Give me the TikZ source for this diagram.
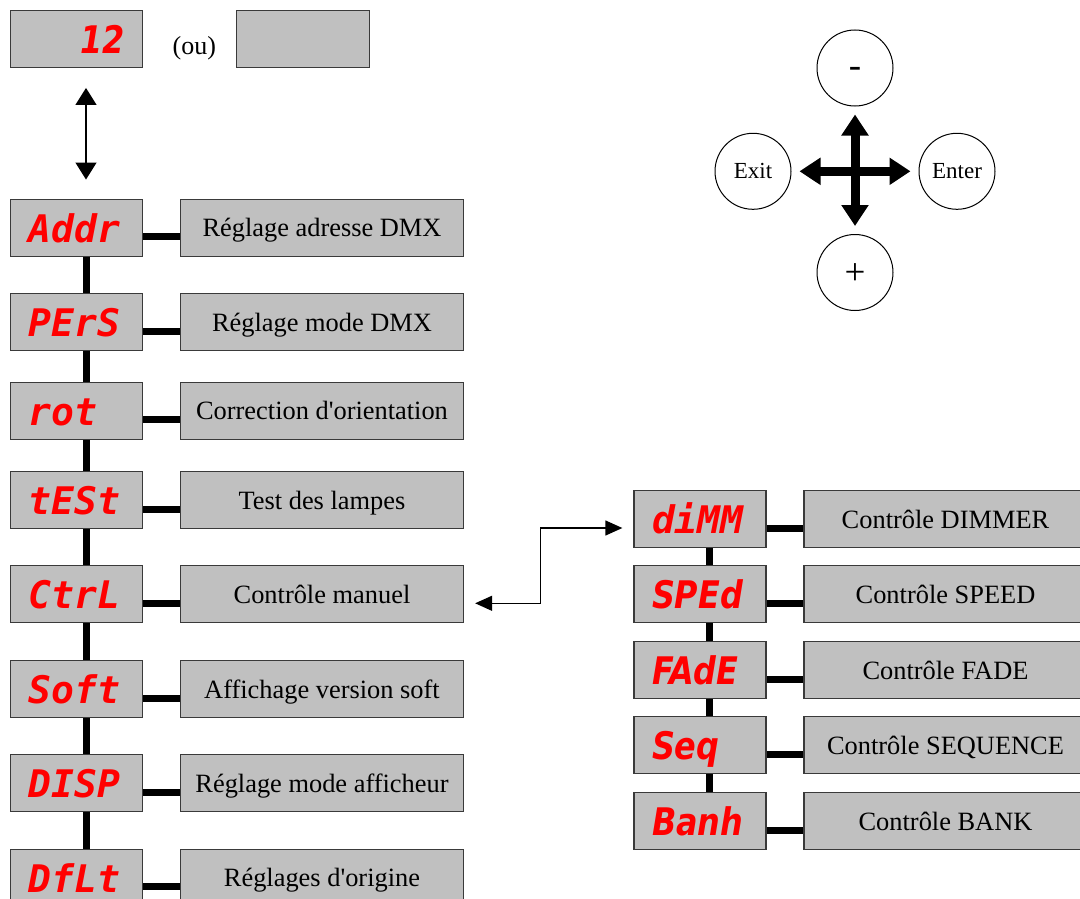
\documentclass[tikz,border=0pt]{standalone}
\usepackage{fontspec}
\setmainfont{Liberation Serif}
\newfontfamily\segmono{DejaVu Sans Mono Bold Oblique}
\newfontfamily\segsans{DejaVu Sans Bold Oblique}[FakeStretch=0.84]
\usetikzlibrary{arrows.meta}
\definecolor{panelgray}{HTML}{C0C0C0}
\definecolor{framegray}{HTML}{3A3A3A}

\begin{document}
\begin{tikzpicture}[x=1pt, y=-1pt,
    panel/.style={draw=framegray, line width=1.3pt, fill=panelgray, inner sep=0pt, minimum height=57pt},
    seg/.style={panel, text width=96pt, inner xsep=18pt, text height=29pt, text depth=0pt, align=left, text=red, font=\segmono\fontsize{38}{40}\selectfont},
    segs/.style={seg, font=\segsans\fontsize{38}{40}\selectfont},
    desc/.style={panel, minimum width=283pt, text height=18pt, text depth=0pt, font=\fontsize{26.4}{30}\selectfont},
    knob/.style={circle, draw, line width=1pt, minimum size=76pt, inner sep=0pt, text height=15pt, text depth=0pt, font=\fontsize{23}{26}\selectfont},
    sign/.style={font=\fontsize{37}{40}\selectfont},
    bar/.style={line width=7pt},
    link/.style={{Triangle[width=15pt,length=17pt]}-{Triangle[width=15pt,length=17pt]}, line width=1.3pt},
    bigarrow/.style={{Triangle[width=26pt,length=21pt]}-{Triangle[width=26pt,length=21pt]}, line width=9pt, shorten <=8pt, shorten >=8pt}]
    \useasboundingbox (0,0) rectangle (1080,899);

    \node[segs, align=right] (twelve) at (76.5,38.8) {12};
    \node[text height=18pt, text depth=0pt, font=\fontsize{26}{30}\selectfont] (ou) at (194.4,45.3) {(ou)};
    \node[panel, minimum width=132.6pt] (blank) at (303,38.8) {};

    \node[seg] (addr) at (76.5,227.7) {Addr};
    \node[seg] (pers) at (76.5,322.2) {PErS};
    \node[seg] (rot) at (76.5,410.7) {rot};
    \node[seg] (test) at (76.5,500) {tESt};
    \node[seg] (ctrl) at (76.5,594.3) {CtrL};
    \node[seg] (soft) at (76.5,689) {Soft};
    \node[seg] (disp) at (76.5,783.3) {DISP};
    \node[seg] (dflt) at (76.5,877.8) {DfLt};

    \node[desc] (addr-d) at (322,227.7) {Réglage adresse DMX};
    \node[desc] (pers-d) at (322,322.2) {Réglage mode DMX};
    \node[desc] (rot-d) at (322,410.7) {Correction d\textquotesingle orientation};
    \node[desc] (test-d) at (322,500) {Test des lampes};
    \node[desc] (ctrl-d) at (322,594.3) {Contrôle manuel};
    \node[desc] (soft-d) at (322,689) {Affichage version soft};
    \node[desc] (disp-d) at (322,783.3) {Réglage mode afficheur};
    \node[desc] (dflt-d) at (322,877.8) {Réglages d\textquotesingle origine};

    \node[seg] (dimm) at (700,519) {diMM};
    \node[segs] (sped) at (700,594) {SPEd};
    \node[segs] (fade) at (700,670) {FAdE};
    \node[segs] (seq) at (700,745) {Seq};
    \node[segs] (banh) at (700,821) {Banh};

    \node[desc] (dimm-d) at (945.5,519) {Contrôle DIMMER};
    \node[desc] (sped-d) at (945.5,594) {Contrôle SPEED};
    \node[desc] (fade-d) at (945.5,670) {Contrôle FADE};
    \node[desc] (seq-d) at (945.5,745) {Contrôle SEQUENCE};
    \node[desc] (banh-d) at (945.5,821) {Contrôle BANK};

    \node[knob, sign, text height=19pt] (minus) at (855,68) {-};
    \node[knob] (exit) at (753,171.3) {Exit};
    \node[knob] (enter) at (957,171.3) {Enter};
    \node[knob, sign, text height=24pt] (plus) at (855,272.5) {+};

    \draw[bar] ([yshift=-9pt]addr.east) -- ([yshift=-9pt]addr-d.west);
    \draw[bar] ([yshift=-9pt]pers.east) -- ([yshift=-9pt]pers-d.west);
    \draw[bar] ([yshift=-9pt]rot.east) -- ([yshift=-9pt]rot-d.west);
    \draw[bar] ([yshift=-9pt]test.east) -- ([yshift=-9pt]test-d.west);
    \draw[bar] ([yshift=-9pt]ctrl.east) -- ([yshift=-9pt]ctrl-d.west);
    \draw[bar] ([yshift=-9pt]soft.east) -- ([yshift=-9pt]soft-d.west);
    \draw[bar] ([yshift=-9pt]disp.east) -- ([yshift=-9pt]disp-d.west);
    \draw[bar] ([yshift=-9pt]dflt.east) -- ([yshift=-9pt]dflt-d.west);
    \draw[bar] ([xshift=9.5pt]addr.south) -- ([xshift=9.5pt]pers.north);
    \draw[bar] ([xshift=9.5pt]pers.south) -- ([xshift=9.5pt]rot.north);
    \draw[bar] ([xshift=9.5pt]rot.south) -- ([xshift=9.5pt]test.north);
    \draw[bar] ([xshift=9.5pt]test.south) -- ([xshift=9.5pt]ctrl.north);
    \draw[bar] ([xshift=9.5pt]ctrl.south) -- ([xshift=9.5pt]soft.north);
    \draw[bar] ([xshift=9.5pt]soft.south) -- ([xshift=9.5pt]disp.north);
    \draw[bar] ([xshift=9.5pt]disp.south) -- ([xshift=9.5pt]dflt.north);

    \draw[bar] ([yshift=-9pt]dimm.east) -- ([yshift=-9pt]dimm-d.west);
    \draw[bar] ([yshift=-9pt]sped.east) -- ([yshift=-9pt]sped-d.west);
    \draw[bar] ([yshift=-9pt]fade.east) -- ([yshift=-9pt]fade-d.west);
    \draw[bar] ([yshift=-9pt]seq.east) -- ([yshift=-9pt]seq-d.west);
    \draw[bar] ([yshift=-9pt]banh.east) -- ([yshift=-9pt]banh-d.west);
    \draw[bar] ([xshift=9pt]dimm.south) -- ([xshift=9pt]sped.north);
    \draw[bar] ([xshift=9pt]sped.south) -- ([xshift=9pt]fade.north);
    \draw[bar] ([xshift=9pt]fade.south) -- ([xshift=9pt]seq.north);
    \draw[bar] ([xshift=9pt]seq.south) -- ([xshift=9pt]banh.north);

    \draw[link, {Triangle[width=21pt,length=17pt]}-{Triangle[width=21pt,length=17pt]}] ([xshift=9.5pt,yshift=-20pt]twelve.south) -- ([xshift=9.5pt,yshift=19pt]addr.north);
    \draw[link] ([xshift=11pt,yshift=-9pt]ctrl-d.east) -- ++(65,0) |- ([xshift=-11pt,yshift=-9pt]dimm.west);

    \draw[bigarrow] (exit) -- (enter);
    \draw[bigarrow] (minus) -- (plus);
\end{tikzpicture}
\end{document}
